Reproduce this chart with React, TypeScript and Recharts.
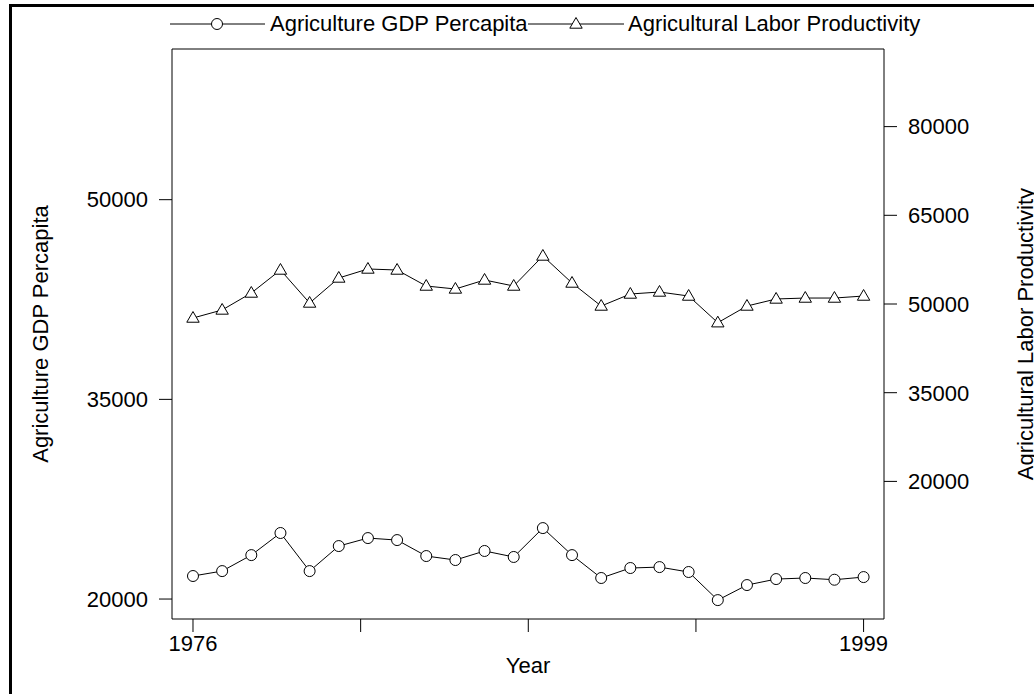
import { LineChart, Line, XAxis, YAxis, Label, Legend } from 'recharts'

// values
const years = [
  1976, 1977, 1978, 1979, 1980, 1981, 1982, 1983, 1984, 1985, 1986, 1987,
  1988, 1989, 1990, 1991, 1992, 1993, 1994, 1995, 1996, 1997, 1998, 1999,
]
const gdpPercapita = [
  21730, 22100, 23300, 24960, 22100, 23980, 24580, 24430, 23230, 22930, 23610, 23160,
  25330, 23300, 21580, 22330, 22400, 22030, 19920, 21050, 21500, 21580, 21450, 21650,
]
const laborProductivity = [
  47630, 48990, 51860, 55750, 50170, 54400, 55920, 55750, 53040, 52540, 54060, 53040,
  58120, 53550, 49660, 51690, 52030, 51350, 46840, 49660, 50850, 51010, 51010, 51350,
]
const xTicks = [1976, 1981.75, 1987.5, 1993.25, 1999]
const leftTicks = [20000, 35000, 50000]
const rightTicks = [20000, 35000, 50000, 65000, 80000]

const GDP_NAME = 'Agriculture GDP Percapita'
const LABOR_NAME = 'Agricultural Labor Productivity'

const data = years.map((year, i) => ({
  year,
  gdp: gdpPercapita[i],
  labor: laborProductivity[i],
}))

const FONT = "'Liberation Sans', Arial, Helvetica, sans-serif"
const tickStyle = { fontSize: 22, fill: '#000', fontFamily: FONT }
const lineStyle = { stroke: '#000', strokeWidth: 1 }

const trianglePoints = (cx: number, cy: number) =>
  `${cx},${cy - 6.5} ${cx - 6.2},${cy + 4.2} ${cx + 6.2},${cy + 4.2}`

function CircleDot(props: any) {
  const { cx, cy, index } = props
  if (cx == null || cy == null) return null
  return <circle key={`c-${index}`} cx={cx} cy={cy} r={5.5} fill="#fff" stroke="#000" strokeWidth={1} />
}

function TriangleDot(props: any) {
  const { cx, cy, index } = props
  if (cx == null || cy == null) return null
  return <polygon key={`t-${index}`} points={trianglePoints(cx, cy)} fill="#fff" stroke="#000" strokeWidth={1} />
}

function LegendBox() {
  return (
    <svg width={1034} height={48} style={{ display: 'block' }}>
      <line x1={170} x2={265} y1={24} y2={24} stroke="#000" />
      <circle cx={217} cy={24} r={5.5} fill="#fff" stroke="#000" />
      <text x={270} y={31} fontSize={22} fontFamily={FONT} fill="#000">{GDP_NAME}</text>
      <line x1={528} x2={624} y1={24} y2={24} stroke="#000" />
      <polygon points={trianglePoints(576, 24)} fill="#fff" stroke="#000" />
      <text x={628} y={31} fontSize={22} fontFamily={FONT} fill="#000">{LABOR_NAME}</text>
    </svg>
  )
}

export default function App() {
  return (
    <div
      style={{
        position: 'fixed',
        left: 0,
        top: 0,
        width: 1034,
        height: 694,
        overflow: 'hidden',
        background: '#fff',
        fontFamily: FONT,
      }}
    >
      {/* outer frame, runs off the right and bottom edges */}
      <div
        style={{
          position: 'absolute',
          left: 9,
          top: 4,
          width: 1200,
          height: 1000,
          border: '3px solid #000',
        }}
      />
      <div style={{ position: 'absolute', left: 0, top: 0 }}>
        <LineChart width={1034} height={694} data={data} margin={{ top: 19, right: 0, bottom: 15, left: 12 }}>
          <XAxis
            xAxisId="bottom"
            dataKey="year"
            type="number"
            domain={[1975.28, 1999.7]}
            allowDataOverflow
            ticks={xTicks}
            interval={0}
            height={60}
            tickSize={13}
            tickMargin={3}
            tick={tickStyle}
            tickFormatter={(v: number) => (v === 1976 || v === 1999 ? String(v) : '')}
            axisLine={lineStyle}
            tickLine={lineStyle}
          >
            <Label value="Year" position="insideBottom" offset={6} style={{ fontSize: 22, fill: '#000', fontFamily: FONT }} />
          </XAxis>
          <XAxis
            xAxisId="top"
            orientation="top"
            dataKey="year"
            type="number"
            domain={[1975.28, 1999.7]}
            allowDataOverflow
            ticks={xTicks}
            interval={0}
            height={30}
            tickSize={13}
            tick={false}
            axisLine={lineStyle}
            tickLine={lineStyle}
          />
          <YAxis
            yAxisId="left"
            type="number"
            domain={[18500, 61320]}
            allowDataOverflow
            ticks={leftTicks}
            interval={0}
            width={160}
            tickSize={13}
            tickMargin={11}
            tick={tickStyle}
            axisLine={lineStyle}
            tickLine={lineStyle}
          >
            <Label
              value={GDP_NAME}
              angle={-90}
              position="insideLeft"
              offset={28}
              style={{ fontSize: 22, fill: '#000', fontFamily: FONT, textAnchor: 'middle' }}
            />
          </YAxis>
          <YAxis
            yAxisId="right"
            orientation="right"
            type="number"
            domain={[-3270, 93125]}
            allowDataOverflow
            ticks={rightTicks}
            interval={0}
            width={150}
            tickSize={13}
            tickMargin={11}
            tick={tickStyle}
            axisLine={lineStyle}
            tickLine={lineStyle}
          >
            <Label
              value={LABOR_NAME}
              angle={-90}
              position="insideRight"
              offset={9}
              style={{ fontSize: 22, fill: '#000', fontFamily: FONT, textAnchor: 'middle' }}
            />
          </YAxis>
          <Legend
            verticalAlign="middle"
            align="center"
            wrapperStyle={{ top: 0, left: 0, width: 1034, height: 48 }}
            content={() => <LegendBox />}
          />
          <Line
            xAxisId="bottom"
            yAxisId="left"
            dataKey="gdp"
            name={GDP_NAME}
            type="linear"
            stroke="#000"
            strokeWidth={1}
            dot={CircleDot}
            activeDot={false}
            isAnimationActive={false}
          />
          <Line
            xAxisId="bottom"
            yAxisId="right"
            dataKey="labor"
            name={LABOR_NAME}
            type="linear"
            stroke="#000"
            strokeWidth={1}
            dot={TriangleDot}
            activeDot={false}
            isAnimationActive={false}
          />
        </LineChart>
      </div>
    </div>
  )
}
